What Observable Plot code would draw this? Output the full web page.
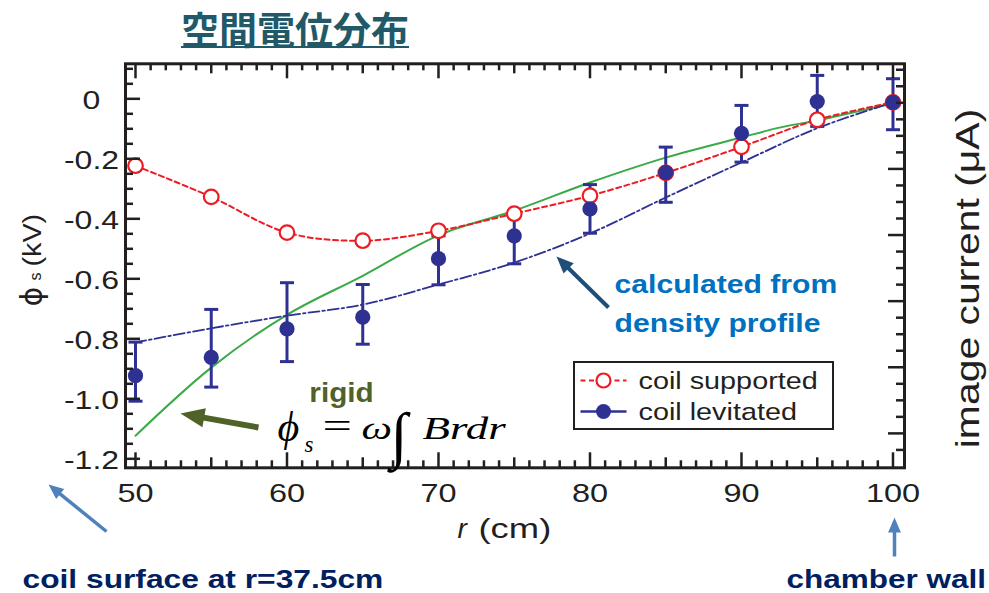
<!DOCTYPE html>
<html>
<head>
<meta charset="utf-8">
<script src="https://cdn.jsdelivr.net/npm/d3@7"></script>
<script src="https://cdn.jsdelivr.net/npm/@observablehq/plot@0.6"></script>
<style>
  body { margin: 0; background: #fff; }
  #wrap { position: relative; width: 989px; height: 593px; overflow: hidden; background: #fff; }
  #title { position: relative; height: 50px; }
  #title span {
    position: absolute; left: 0; width: 590px; top: 0; text-align: center;
    font: bold 38px "Noto Sans CJK JP", "Noto Sans CJK SC", sans-serif; line-height: normal;
    color: #215968; text-decoration: underline; text-decoration-thickness: 2px;
    text-underline-offset: 2px;
  }
  #chart svg { display: block; }
</style>
</head>
<body>
<div id="wrap">
  <div id="title"><span>空間電位分布</span></div>
  <div id="chart"></div>
</div>
<script>
// Measured radial positions (cm) and space potential (kV)
const radius = [50, 55, 60, 65, 70, 75, 80, 85, 90, 95, 100];
const phiSupported = [-0.223, -0.327, -0.446, -0.473, -0.44, -0.383, -0.323, -0.247, -0.16, -0.07, -0.012];
const phiLevitated = [-0.923, -0.862, -0.767, -0.728, -0.533, -0.457, -0.367, -0.246, -0.115, -0.009, -0.012];
const levitatedLow = [-1.008, -0.961, -0.876, -0.818, -0.62, -0.55, -0.448, -0.345, -0.211, -0.092, -0.103];
const levitatedHigh = [-0.811, -0.702, -0.613, -0.619, -0.457, -0.381, -0.286, -0.161, -0.022, 0.078, 0.067];

// Rigid-rotation model  phi_s = omega * Int B r dr
const rigidR = [50, 55, 60, 65, 70, 75, 80, 85, 90, 92.5, 95, 100];
const phiRigid = [-1.123, -0.896, -0.72, -0.59, -0.455, -0.373, -0.279, -0.196, -0.129, -0.096, -0.072, -0.015];

// Potential calculated from the density profile
const phiDensity = [-0.812, -0.765, -0.723, -0.686, -0.619, -0.546, -0.449, -0.329, -0.212, -0.098, -0.012];

// Axis ticks
const xTickLabels = [50, 60, 70, 80, 90, 100];
const xMidTicks = [55, 65, 75, 85, 95];
const xMinorTicks = d3.range(50, 101).filter(d => d % 5 !== 0);
const yTickLabels = [0, -0.2, -0.4, -0.6, -0.8, -1.0, -1.2];
const yMinorTicks = d3.range(-24, 3).filter(i => i % 4 !== 0).map(i => i * 0.05);
// image current axis (right side, unlabelled ticks)
const currentMajor = [0, 1, 2, 3, 4];
const currentMinor = d3.range(-1, 23).map(k => k * 0.25).filter(d => !(Number.isInteger(d) && d >= 0 && d <= 4));
const currentToKV = i => -1.1153 + 0.2204 * i;

const ink = "#231F20", red = "#ED1C24", navy = "#2E3192", green = "#3AAA48";

const W = 989, H = 543, TOP = 50;
const M = {top: 13.3, right: 85, bottom: 125.7, left: 125};
const xDomain = [49.34, 100.76], yDomain = [-1.23, 0.1167];
const innerW = W - M.left - M.right, innerH = H - M.top - M.bottom;
// page pixel -> data coordinates, for placing annotations
const rAt = px => xDomain[0] + (px - M.left) / innerW * (xDomain[1] - xDomain[0]);
const vAt = py => yDomain[1] - (py - TOP - M.top) / innerH * (yDomain[1] - yDomain[0]);

const supported = radius.map((r, i) => ({r, phi: phiSupported[i]}));
const levitated = radius.map((r, i) => ({r, phi: phiLevitated[i], lo: levitatedLow[i], hi: levitatedHigh[i]}));
const rigid = rigidR.map((r, i) => ({r, phi: phiRigid[i]}));
const density = radius.map((r, i) => ({r, phi: phiDensity[i]}));

const capSymbol = {draw(ctx, size) { const r = Math.sqrt(size / Math.PI); ctx.moveTo(-r, 0); ctx.lineTo(r, 0); }};

// horizontal glyph stretch, keyed by the text content
const stretches = new Map();
xTickLabels.forEach(d => stretches.set(String(d), 1.3));
const yLabel = d => d === 0 ? "0" : d.toFixed(1);
yTickLabels.forEach(d => stretches.set(yLabel(d), 1.28));

function note(text, px, py, {sx = 1, ...o} = {}) {
  if (sx !== 1) stretches.set(text.replace(/\n/g, ""), sx);
  return Plot.text([{x: rAt(px), y: vAt(py), text}], {
    x: "x", y: "y", text: "text", lineAnchor: "bottom", textAnchor: "start",
    fill: ink, ...o
  });
}

function arrow(x1, y1, x2, y2, {color, width, head, spread = 0.85}) {
  const dx = x2 - x1, dy = y2 - y1, len = Math.hypot(dx, dy), ux = dx / len, uy = dy / len;
  const bx = x2 - ux * head * 0.8, by = y2 - uy * head * 0.8;
  const tip = {draw(ctx) {
    const hx = -ux * head, hy = -uy * head, w = head * spread / 2;
    ctx.moveTo(0, 0);
    ctx.lineTo(hx - uy * w, hy + ux * w);
    ctx.lineTo(hx + uy * w, hy - ux * w);
    ctx.closePath();
  }};
  return [
    Plot.link([{a: rAt(x1), b: vAt(y1), c: rAt(bx), d: vAt(by)}], {x1: "a", y1: "b", x2: "c", y2: "d", stroke: color, strokeWidth: width}),
    Plot.dot([{x: rAt(x2), y: vAt(y2)}], {x: "x", y: "y", symbol: tip, r: 5, fill: color, stroke: "none"})
  ];
}

function xTicks(values, len) {
  return [
    Plot.tickX(values, {x: d => d, insetTop: innerH - len, stroke: ink, strokeWidth: 2.5}),
    Plot.tickX(values, {x: d => d, insetBottom: innerH - len, stroke: ink, strokeWidth: 2.5})
  ];
}

const legendRows = [{py: 380, label: "coil supported"}, {py: 411, label: "coil levitated"}];
const serif = "'Liberation Serif', 'DejaVu Serif', serif";

const plot = Plot.plot({
  width: W, height: H,
  marginTop: M.top, marginRight: M.right, marginBottom: M.bottom, marginLeft: M.left,
  x: {domain: xDomain, axis: null},
  y: {domain: yDomain, axis: null},
  style: {fontFamily: "'Liberation Sans', Arial, sans-serif", background: "#fff", overflow: "visible"},
  marks: [
    // model curves
    Plot.line(rigid, {x: "r", y: "phi", curve: "catmull-rom", stroke: green, strokeWidth: 2}),
    Plot.line(density, {x: "r", y: "phi", curve: "catmull-rom", stroke: navy, strokeWidth: 1.8, strokeDasharray: "11,3,2.5,3"}),
    Plot.line(supported, {x: "r", y: "phi", curve: "catmull-rom", stroke: red, strokeWidth: 2, strokeDasharray: "5,3.5"}),

    // error bars of the levitated data
    Plot.ruleX(levitated, {x: "r", y1: "lo", y2: "hi", stroke: navy, strokeWidth: 3}),
    Plot.dot(levitated, {x: "r", y: "lo", symbol: capSymbol, r: 7, stroke: navy, strokeWidth: 3, fill: "none"}),
    Plot.dot(levitated, {x: "r", y: "hi", symbol: capSymbol, r: 7, stroke: navy, strokeWidth: 3, fill: "none"}),

    // data points
    Plot.dot(supported, {x: "r", y: "phi", r: 7.3, stroke: red, strokeWidth: 2.2, fill: "#fff"}),
    Plot.dot(levitated, {x: "r", y: "phi", r: 7.6, fill: navy, stroke: "none"}),

    // frame and inward ticks
    Plot.frame({stroke: ink, strokeWidth: 3}),
    ...xTicks(xTickLabels, 15), ...xTicks(xMidTicks, 10), ...xTicks(xMinorTicks, 7),
    Plot.tickY(yTickLabels, {y: d => d, insetRight: innerW - 15, stroke: ink, strokeWidth: 2.5}),
    Plot.tickY(yMinorTicks, {y: d => d, insetRight: innerW - 8, stroke: ink, strokeWidth: 2.5}),
    Plot.tickY(currentMajor, {y: d => currentToKV(d), insetLeft: innerW - 16, stroke: ink, strokeWidth: 2.5}),
    Plot.tickY(currentMinor, {y: d => currentToKV(d), insetLeft: innerW - 8, stroke: ink, strokeWidth: 2.5}),

    // tick labels
    Plot.text(xTickLabels, {x: d => d, text: d => String(d), frameAnchor: "bottom", dy: 34.5, lineAnchor: "bottom",
      fontSize: 25, fill: ink}),
    Plot.text(yTickLabels, {y: d => d, text: yLabel, frameAnchor: "left", dx: -34, dy: 2,
      textAnchor: "middle", fontSize: 25, fill: ink}),

    // axis titles
    note("r", 457, 537, {fontSize: 28, fontStyle: "italic"}),
    note("(cm)", 478, 537, {fontSize: 28, sx: 1.3}),
    note("ϕ", 41, 306, {fontSize: 30, rotate: -90, fontFamily: "'DejaVu Sans', sans-serif"}),
    note("s", 40, 280, {fontSize: 16, rotate: -90}),
    note("(kV)", 40, 266, {fontSize: 25, rotate: -90, sx: 1.15}),
    note("image current (μA)", 978, 278, {fontSize: 33, rotate: -90, textAnchor: "middle", sx: 1.24}),

    // legend
    Plot.rect([{a: rAt(574), b: rAt(833), c: vAt(362), d: vAt(429)}], {x1: "a", x2: "b", y1: "c", y2: "d", fill: "#fff", stroke: ink, strokeWidth: 2}),
    Plot.link([{a: rAt(580), b: rAt(626), y: vAt(legendRows[0].py)}], {x1: "a", x2: "b", y1: "y", y2: "y", stroke: red, strokeWidth: 2, strokeDasharray: "5,3.5"}),
    Plot.dot([{x: rAt(603), y: vAt(legendRows[0].py)}], {x: "x", y: "y", r: 7, stroke: red, strokeWidth: 2.2, fill: "#fff"}),
    Plot.link([{a: rAt(580), b: rAt(626), y: vAt(legendRows[1].py)}], {x1: "a", x2: "b", y1: "y", y2: "y", stroke: navy, strokeWidth: 2.5}),
    Plot.dot([{x: rAt(603), y: vAt(legendRows[1].py)}], {x: "x", y: "y", r: 7.5, fill: navy}),
    note(legendRows[0].label, 638, 388, {fontSize: 24, sx: 1.2}),
    note(legendRows[1].label, 638, 419, {fontSize: 24, sx: 1.2}),

    // annotations
    note("calculated from\ndensity profile", 614, 331, {fontSize: 26, fontWeight: "bold", fill: "#0070C0", lineHeight: 1.5, sx: 1.16}),
    ...arrow(608, 307, 556, 256, {color: "#1F4E79", width: 4, head: 17}),
    note("rigid", 341, 401, {fontSize: 27, fontWeight: "bold", fill: "#4F6228", textAnchor: "middle", sx: 1.1}),
    ...arrow(258, 427, 180, 413, {color: "#4F6228", width: 6, head: 24, spread: 0.8}),
    note("ϕ", 277, 440, {fontSize: 42, fontStyle: "italic", fontFamily: serif, fill: "#000"}),
    note("s", 304, 451, {fontSize: 23, fontStyle: "italic", fontFamily: serif, fill: "#000"}),
    note("=", 322, 437, {fontSize: 36, fontFamily: serif, fill: "#000", sx: 1.45}),
    note("ω", 361, 438, {fontSize: 32, fontStyle: "italic", fontFamily: serif, fill: "#000", sx: 1.35}),
    note("∫", 390, 455, {fontSize: 62, fontFamily: serif, fill: "#000"}),
    note("Brdr", 422, 438, {fontSize: 31, fontStyle: "italic", fontFamily: serif, fill: "#000", sx: 1.45}),
    ...arrow(106, 531, 48, 484, {color: "#4F81BD", width: 3.5, head: 15}),
    note("coil surface at r=37.5cm", 22, 587, {fontSize: 25, fontWeight: "bold", fill: "#002060", sx: 1.27}),
    ...arrow(894, 556, 894, 517, {color: "#4F81BD", width: 3.5, head: 15}),
    note("chamber wall", 786, 587, {fontSize: 25, fontWeight: "bold", fill: "#002060", sx: 1.26})
  ]
});

// widen glyphs along the baseline
plot.querySelectorAll("text").forEach(t => {
  const sx = stretches.get(t.textContent);
  if (!sx) return;
  const tr = t.getAttribute("transform");
  if (tr && tr.includes("translate")) {
    t.setAttribute("transform", `${tr} scale(${sx},1)`);
  } else {
    const x = +t.getAttribute("x") || 0, y = +t.getAttribute("y") || 0;
    t.setAttribute("transform", `translate(${x},${y}) scale(${sx},1) translate(${-x},${-y})`);
  }
});

document.getElementById("chart").appendChild(plot);
</script>
</body>
</html>
